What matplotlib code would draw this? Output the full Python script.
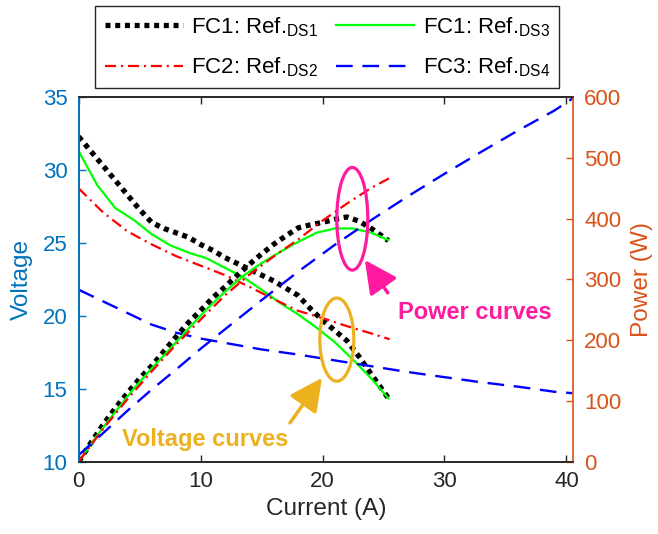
import matplotlib
matplotlib.use("Agg")
import matplotlib.pyplot as plt
from matplotlib.patches import Ellipse

plt.rcParams['font.family'] = ['Liberation Sans', 'DejaVu Sans']
plt.rcParams['mathtext.fontset'] = 'custom'
plt.rcParams['mathtext.rm'] = 'Liberation Sans'
plt.rcParams['mathtext.it'] = 'Liberation Sans:italic'
plt.rcParams['mathtext.bf'] = 'Liberation Sans:bold'
plt.rcParams['lines.scale_dashes'] = False

# ---------------- data ----------------
# FC1: Ref DS1 (black dotted)
x_ds1 = [0, 1, 2, 3, 4, 5, 6, 7, 8, 9, 10, 11, 12, 13, 14, 15, 16, 17, 18, 19, 20, 21, 22, 23, 24, 25.4]
v_ds1 = [32.3, 31.3, 30.3, 29.3, 28.3, 27.3, 26.4, 26.0, 25.7, 25.4, 24.9, 24.5, 24.0, 23.6, 23.2,
         22.8, 22.4, 21.9, 21.4, 20.5, 19.7, 19.0, 18.3, 17.2, 16.0, 14.35]
p_ds1 = [0, 31, 61, 88, 113, 137, 158, 182, 206, 229, 249, 270, 288, 307, 325,
         342, 358, 372, 385, 390, 394, 399, 403, 396, 384, 364]

# FC1: Ref DS3 (green solid)
x_ds3 = [0, 1.5, 3, 4.5, 6, 7.5, 9, 10.5, 12, 13.5, 15, 16.5, 18, 19.5, 21, 22.5, 24, 25.4]
v_ds3 = [31.3, 29.0, 27.4, 26.6, 25.6, 24.85, 24.35, 23.95, 23.3, 22.65, 21.8, 20.9, 20.1,
         19.2, 18.2, 17.0, 15.7, 14.35]
p_ds3 = [0, 43, 82, 120, 154, 186, 219, 251, 280, 306, 327, 345, 362, 377, 384, 384, 377, 365]

# FC2: Ref DS2 (red dash-dot)
x_ds2 = [0, 2, 4, 6, 8, 10, 12, 14, 16, 18, 20, 22, 24, 25.5]
v_ds2 = [28.75, 27.1, 25.8, 24.9, 24.1, 23.45, 22.8, 22.0, 21.15, 20.35, 19.85, 19.3, 18.8, 18.4]
p_ds2 = [0, 54, 103, 149, 193, 234, 274, 308, 338, 366, 397, 425, 451, 467]

# FC3: Ref DS4 (blue dashed)
x_ds4 = [0, 2, 4, 6, 8, 10, 12, 15, 18, 21, 24, 27, 30, 33, 36, 39, 40.5]
v_ds4 = [21.8, 21.0, 20.2, 19.4, 18.85, 18.45, 18.15, 17.7, 17.35, 16.95, 16.55, 16.15, 15.8,
         15.45, 15.15, 14.8, 14.7]
p_ds4 = [11, 47, 84, 119, 152, 186, 218, 266, 313, 357, 398, 437, 474, 510, 545, 578, 598]

labels = ['FC1: Ref.$_{\\mathrm{DS1}}$', 'FC2: Ref.$_{\\mathrm{DS2}}$',
          'FC1: Ref.$_{\\mathrm{DS3}}$', 'FC3: Ref.$_{\\mathrm{DS4}}$']

x_ticks = [0, 10, 20, 30, 40]
v_ticks = [10, 15, 20, 25, 30, 35]
p_ticks = [0, 100, 200, 300, 400, 500, 600]

# ---------------- styles ----------------
C_LEFT = '#0072BD'
C_RIGHT = '#D95319'
C_AX = '#262626'
C_PINK = '#FF1AA0'
C_GOLD = '#EDB120'

sty_ds1 = dict(color='black', lw=3.8, linestyle=(0, (3.6, 3.4)), dash_capstyle='butt')
sty_ds3 = dict(color='#00FF00', lw=1.6, linestyle='-')
sty_ds2 = dict(color='#FF0000', lw=1.6, linestyle=(0, (8, 3.5, 1.5, 3.5)))
sty_ds4 = dict(color='#0000FF', lw=1.7, linestyle=(0, (12, 7)))

fig = plt.figure(figsize=(6.58, 5.34), dpi=100)
ax1 = fig.add_axes([0.1196, 0.1354, 0.7514, 0.6824])
ax2 = ax1.twinx()

h1, = ax1.plot(x_ds1, v_ds1, **sty_ds1)
h3, = ax1.plot(x_ds3, v_ds3, **sty_ds3)
h2, = ax1.plot(x_ds2, v_ds2, **sty_ds2)
h4, = ax1.plot(x_ds4, v_ds4, **sty_ds4)

ax2.plot(x_ds1, p_ds1, **sty_ds1)
ax2.plot(x_ds3, p_ds3, **sty_ds3)
ax2.plot(x_ds2, p_ds2, **sty_ds2)
ax2.plot(x_ds4, p_ds4, **sty_ds4)

ax1.set_xlim(0, 40.55)
ax1.set_ylim(10, 35)
ax2.set_ylim(0, 600)
ax1.set_xticks(x_ticks)
ax1.set_yticks(v_ticks)
ax2.set_yticks(p_ticks)

fs_tick = 16
ax1.tick_params(axis='x', direction='in', top=True, length=5, width=1, colors=C_AX,
                labelsize=fs_tick, pad=7)
ax1.tick_params(axis='y', direction='in', length=5, width=1, colors=C_LEFT,
                labelsize=fs_tick, pad=8)
ax2.tick_params(axis='y', direction='in', length=5, width=1, colors=C_RIGHT,
                labelsize=fs_tick, pad=8)

for ax in (ax1, ax2):
    ax.spines['top'].set_color(C_AX)
    ax.spines['bottom'].set_color(C_AX)
    for s in ax.spines.values():
        s.set_linewidth(1.2)
ax1.spines['left'].set_color(C_LEFT)
ax1.spines['right'].set_visible(False)
ax2.spines['right'].set_color(C_RIGHT)
ax2.spines['left'].set_color(C_LEFT)

ax1.set_xlabel('Current (A)', fontsize=17.6, color=C_AX, labelpad=4)
ax1.set_ylabel('Voltage', fontsize=17.6, color=C_LEFT, labelpad=7)
ax2.set_ylabel('Power (W)', fontsize=17.6, color=C_RIGHT, labelpad=7)

# annotations (on top axis, in power coordinates)
ax2.add_patch(Ellipse((22.44, 400), 2.54, 169, fill=False, edgecolor=C_PINK, lw=2.3, zorder=5))
ax2.add_patch(Ellipse((21.17, 201), 2.79, 137, fill=False, edgecolor=C_GOLD, lw=2.3, zorder=5))
ax2.annotate('', xy=(23.47, 332), xytext=(25.35, 278),
             arrowprops=dict(arrowstyle='-|>,head_length=1.0,head_width=0.5', lw=2.5,
                             color=C_PINK, shrinkA=0, shrinkB=0, mutation_scale=20))
ax2.annotate('', xy=(19.95, 138), xytext=(17.33, 64),
             arrowprops=dict(arrowstyle='-|>,head_length=1.0,head_width=0.5', lw=2.5,
                             color=C_GOLD, shrinkA=0, shrinkB=0, mutation_scale=20))
ax2.text(26.17, 246, 'Power curves', color=C_PINK, fontsize=17, fontweight='bold',
         ha='left', va='center')
ax2.text(3.55, 37, 'Voltage curves', color=C_GOLD, fontsize=17, fontweight='bold',
         ha='left', va='center')

leg = fig.legend([h1, h2, h3, h4], labels, ncol=2, loc='center',
                 bbox_to_anchor=(0.4975, 0.912), fontsize=16, frameon=True, fancybox=False,
                 edgecolor=C_AX, facecolor='white', framealpha=1, handlelength=3.5,
                 handletextpad=0.4, columnspacing=0.8, labelspacing=0.75, borderpad=0.42,
                 borderaxespad=0)
leg.get_frame().set_linewidth(1.0)

fig.savefig('out.png', dpi=100)
